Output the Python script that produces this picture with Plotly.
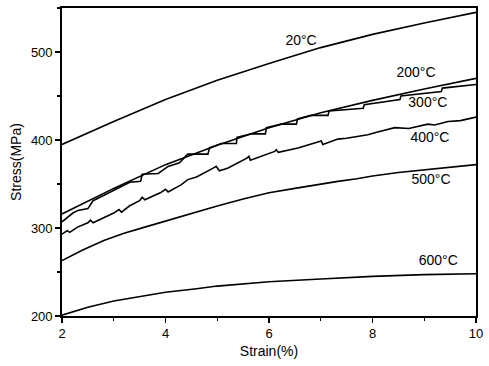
import plotly.graph_objects as go

# ---- data ----
x_20 = [2.0, 3.0, 4.0, 5.0, 6.0, 7.0, 8.0, 9.0, 10.0]
y_20 = [395, 421, 446, 468, 487, 505, 520, 533, 545]

x_200 = [2.0, 3.0, 4.0, 5.0, 6.0, 7.0, 8.0, 9.0, 10.0]
y_200 = [316, 345, 372, 394, 414, 431, 445, 458, 470]

x_300 = [2.00, 2.21, 2.31, 2.50, 2.60, 3.18, 3.31, 3.52, 3.55, 3.86, 4.05, 4.27, 4.37, 4.43,
         4.82, 4.85, 5.08, 5.37, 5.38, 5.66, 5.93, 5.95, 6.24, 6.53, 6.55, 6.81, 7.14, 7.16,
         7.82, 7.84, 8.53, 8.55, 9.33, 9.35, 10.0]
y_300 = [307, 317, 320, 322, 331, 348, 352, 353, 361, 362, 370, 374, 381, 384,
         384, 391, 396, 396, 403, 407, 407, 414, 418, 418, 424, 428, 428, 433,
         436, 440, 446, 450, 455, 459, 463]

x_400 = [2.00, 2.10, 2.15, 2.30, 2.50, 2.55, 2.60, 2.90, 3.00, 3.10, 3.15, 3.30, 3.50, 3.55,
         3.60, 3.90, 4.00, 4.05, 4.30, 4.43, 4.60, 4.92, 4.98, 5.04, 5.20, 5.59, 5.61, 5.64,
         6.11, 6.14, 6.18, 6.56, 6.80, 7.01, 7.04, 7.33, 7.50, 7.91, 8.10, 8.43, 8.70, 9.07,
         9.20, 9.46, 9.70, 10.0]
y_400 = [293, 297, 295, 301, 306, 309, 306, 314, 317, 321, 318, 325, 331, 335,
         332, 340, 344, 341, 349, 355, 358, 368, 370, 365, 368, 380, 382, 377,
         387, 389, 386, 391, 395, 399, 395, 401, 402, 406, 409, 414, 413, 418,
         417, 421, 422, 426]

x_500 = [2.0, 2.4, 2.82, 3.2, 3.6, 4.0, 4.3, 4.63, 5.0, 5.5, 6.0, 6.5, 7.0, 7.33, 7.7, 8.0, 8.5, 9.0, 9.5, 10.0]
y_500 = [263, 275, 286, 294, 301, 308, 313, 319, 325, 333, 340, 345, 350, 353, 356, 359, 363, 366, 369, 372]

x_600 = [2.0, 2.5, 3.0, 3.5, 4.0, 4.6, 5.0, 6.0, 6.56, 7.0, 8.0, 9.0, 10.0]
y_600 = [201, 210, 217, 222, 227, 231, 234, 239, 241, 242, 245, 247, 248]

labels = ["20°C", "200°C", "300°C", "400°C", "500°C", "600°C"]
label_x = [6.62, 8.84, 9.07, 9.11, 9.13, 9.27]
label_y = [512, 476, 441, 402, 354, 262]

x_ticks = [2, 4, 6, 8, 10]
y_ticks = [200, 300, 400, 500]

series = [(x_20, y_20), (x_200, y_200), (x_300, y_300), (x_400, y_400), (x_500, y_500), (x_600, y_600)]

FONT = "Liberation Sans, Arial"

fig = go.Figure()
for (xs, ys), name in zip(series, labels):
    fig.add_trace(go.Scatter(x=xs, y=ys, mode="lines", name=name,
                             line=dict(color="black", width=1.6), showlegend=False))

fig.add_trace(go.Scatter(x=label_x, y=label_y, mode="text", text=labels,
                         textfont=dict(family=FONT, size=14, color="black"),
                         showlegend=False, hoverinfo="skip"))

axis_common = dict(showgrid=False, zeroline=False, showline=True, linecolor="black", linewidth=1.8,
                   mirror=True, ticks="outside", ticklen=5, tickwidth=1.8, tickcolor="black",
                   tickfont=dict(family=FONT, size=13, color="black"),
                   title_font=dict(family=FONT, size=14, color="black"))

fig.update_xaxes(range=[2, 10], tickvals=x_ticks, title_text="Strain(%)", title_standoff=6,
                 minor=dict(dtick=1, ticks="outside", ticklen=3, tickcolor="black", tickwidth=1.2),
                 **axis_common)
fig.update_yaxes(range=[200, 550], tickvals=y_ticks, title_text="Stress(MPa)", title_standoff=6,
                 minor=dict(dtick=50, tick0=200, ticks="outside", ticklen=3, tickcolor="black", tickwidth=1.2),
                 **axis_common)

fig.update_layout(width=489, height=366, margin=dict(l=62, r=11, t=6, b=50),
                  plot_bgcolor="white", paper_bgcolor="white", hovermode=False,
                  font=dict(family=FONT, color="black"))

fig.write_html("out.html", config={"displayModeBar": False, "staticPlot": True},
               post_script="document.body.style.margin='0';document.body.style.overflow='hidden';")
